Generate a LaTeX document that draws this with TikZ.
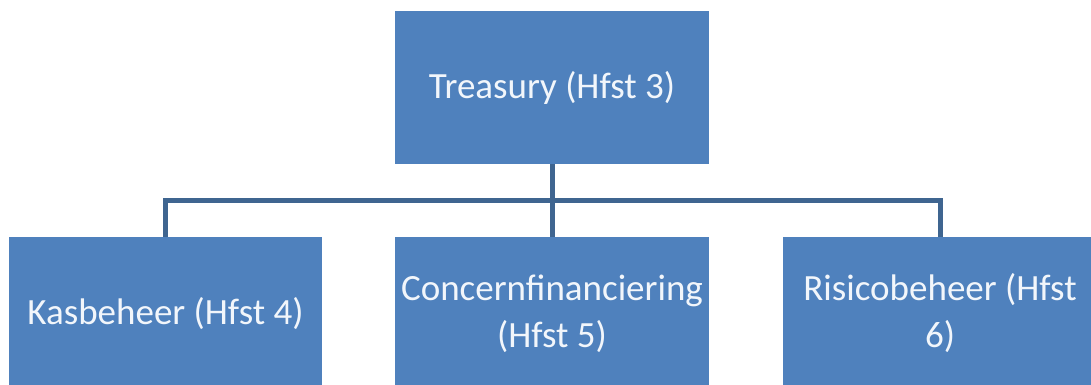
\documentclass[tikz,border=0pt]{standalone}
\usepackage{fontspec}
\setmainfont{Carlito}
\definecolor{boxblue}{HTML}{4F81BD}
\definecolor{linkblue}{HTML}{3F6590}
\definecolor{txtwhite}{HTML}{F2F6FB}
\begin{document}
\begin{tikzpicture}[x=1pt,y=-1pt,
  orgbox/.style={rectangle, fill=boxblue, draw=none, minimum width=314pt, minimum height=153pt,
    inner sep=0pt, align=center, text=txtwhite, font=\fontsize{37}{47}\selectfont},
  link/.style={draw=linkblue, line width=5pt, line join=miter}]
\useasboundingbox (0,0) rectangle (1091,385);
\clip (0,0) rectangle (1091,385);
\fill[white] (0,0) rectangle (1091,385);
\node[orgbox] (top) at (552,87.5) {Treasury (Hfst 3)};
\node[orgbox, minimum width=313pt] (kas) at (165.5,313.5) {Kasbeheer (Hfst 4)};
\node[orgbox] (con) at (552,313.5) {Concernfinanciering\\(Hfst 5)};
\node[orgbox] (ris) at (940,313.5) {Risicobeheer (Hfst\\6)};
\coordinate (bus) at (552,200);
\draw[link] (top.south) -- (con.north);
\draw[link] (kas.north) |- (bus) -| (ris.north);
\end{tikzpicture}
\end{document}
